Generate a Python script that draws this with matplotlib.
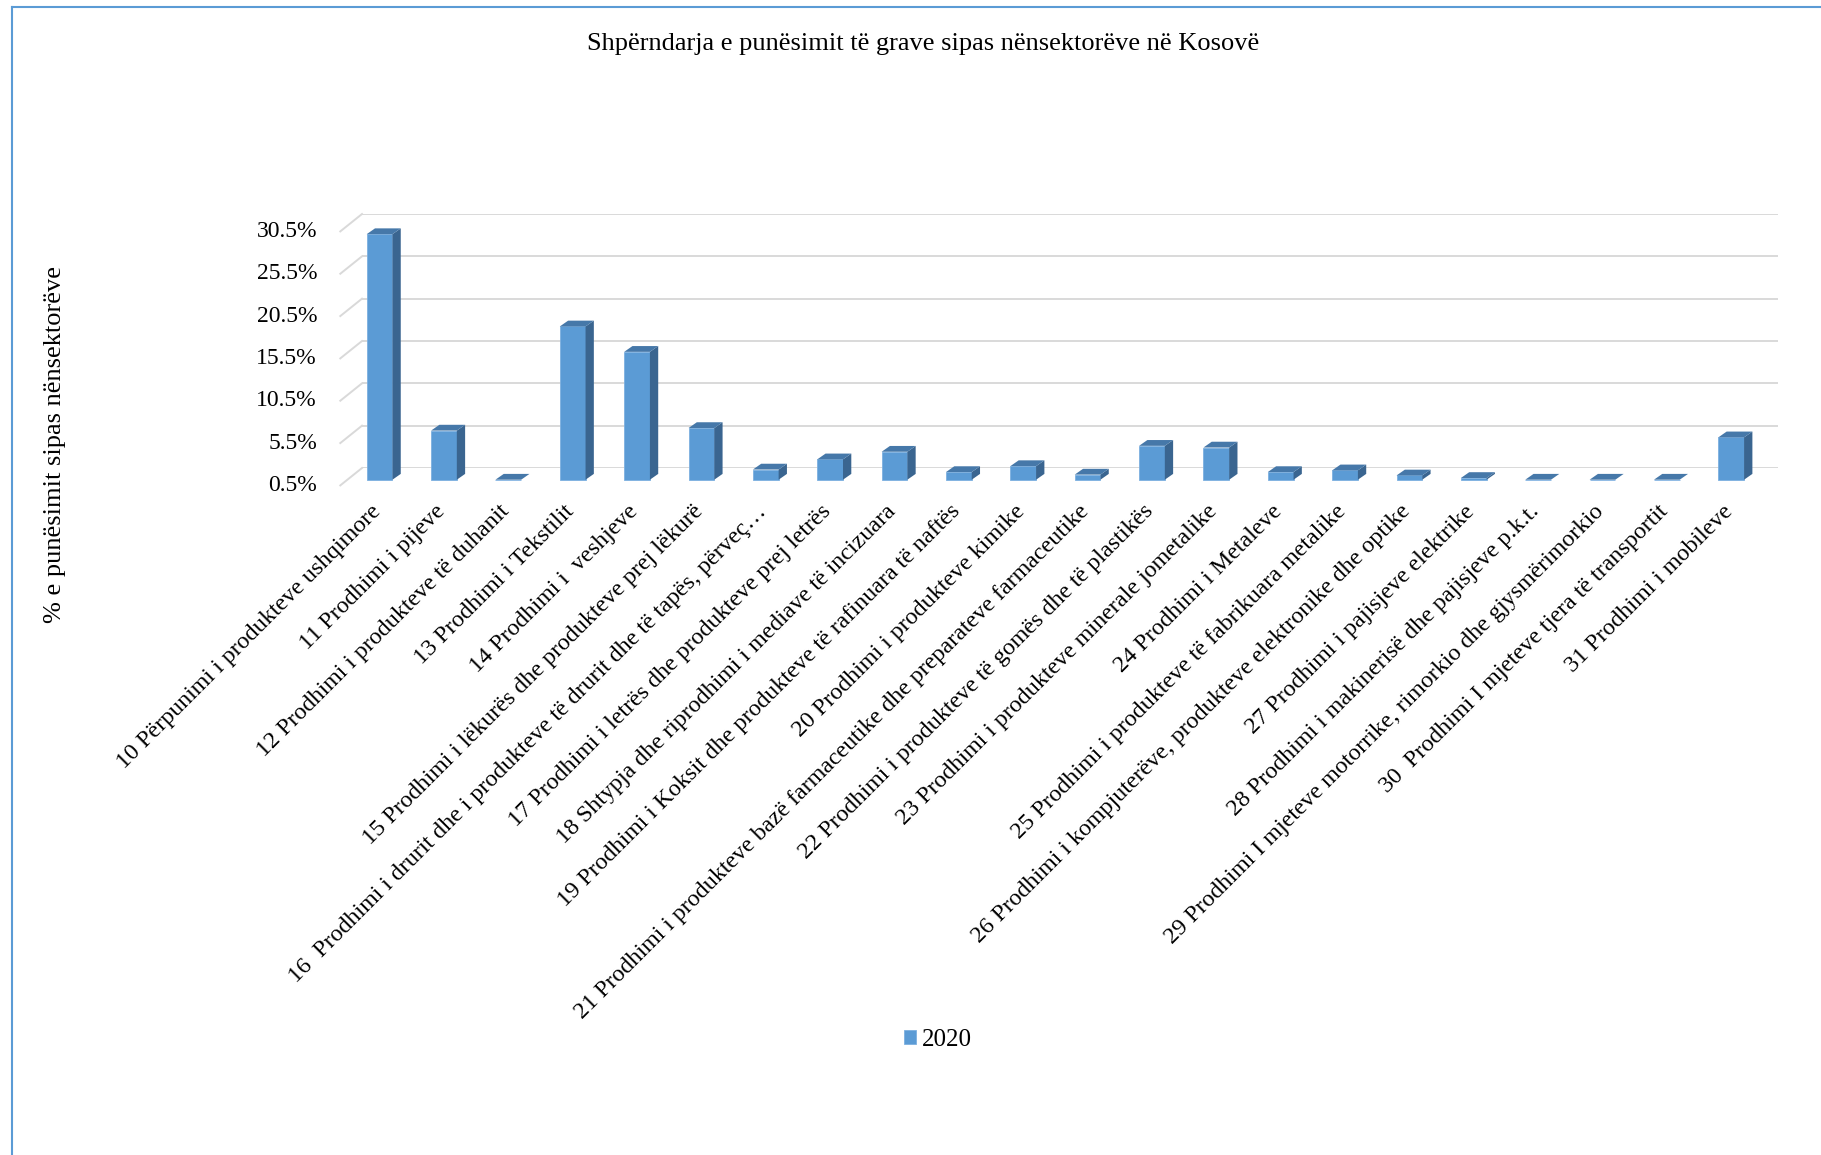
import matplotlib
matplotlib.use('Agg')
import matplotlib.pyplot as plt
import matplotlib.transforms as mtransforms
from matplotlib.patches import Polygon
from matplotlib.lines import Line2D
import numpy as np

plt.rcParams['font.family'] = ['Liberation Serif', 'DejaVu Serif']

title = 'Shpërndarja e punësimit të grave sipas nënsektorëve në Kosovë'
ylabel = '% e punësimit sipas nënsektorëve'
series_name = '2020'

categories = [
    '10 Përpunimi i produkteve ushqimore',
    '11 Prodhimi i pijeve',
    '12 Prodhimi i produkteve të duhanit',
    '13 Prodhimi i Tekstilit',
    '14 Prodhimi i  veshjeve',
    '15 Prodhimi i lëkurës dhe produkteve prej lëkurë',
    '16  Prodhimi i drurit dhe i produkteve të drurit dhe të tapës, përveç…',
    '17 Prodhimi i letrës dhe produkteve prej letrës',
    '18 Shtypja dhe riprodhimi i mediave të incizuara',
    '19 Prodhimi i Koksit dhe produkteve të rafinuara të naftës',
    '20 Prodhimi i produkteve kimike',
    '21 Prodhimi i produkteve bazë farmaceutike dhe preparateve farmaceutike',
    '22 Prodhimi i produkteve të gomës dhe të plastikës',
    '23 Prodhimi i produkteve minerale jometalike',
    '24 Prodhimi i Metaleve',
    '25 Prodhimi i produkteve të fabrikuara metalike',
    '26 Prodhimi i kompjuterëve, produkteve elektronike dhe optike',
    '27 Prodhimi i pajisjeve elektrike',
    '28 Prodhimi i makinerisë dhe pajisjeve p.k.t.',
    '29 Prodhimi I mjeteve motorrike, rimorkio dhe gjysmërimorkio',
    '30  Prodhimi I mjeteve tjera të transportit',
    '31 Prodhimi i mobileve',
]
# share of women's employment, %
values = [29.5, 6.3, 0.4, 18.6, 15.6, 6.6, 1.7, 2.9, 3.8, 1.4, 2.1,
          1.1, 4.5, 4.3, 1.4, 1.6, 1.0, 0.7, 0.4, 0.3, 0.3, 5.5]
yticks = [0.5, 5.5, 10.5, 15.5, 20.5, 25.5, 30.5]

W, H = 1821, 1155
fig = plt.figure(figsize=(W / 100, H / 100), dpi=100)

# back wall of the 3d chart, in pixels
left, right, bottom, top = 362, 1778, 468, 214
ax = fig.add_axes([left / W, 1 - bottom / H, (right - left) / W, (bottom - top) / H])
ax.set_xlim(-0.5, len(categories) - 0.5)
ax.set_ylim(yticks[0], yticks[-1])
for s in ax.spines.values():
    s.set_visible(False)
ax.set_xticks([])
ax.set_yticks(yticks)
ax.tick_params(axis='y', length=0, labelleft=False)
ax.grid(axis='y', color='#d9d9d9', linewidth=1.4)
ax.set_axisbelow(True)

px_x = (right - left) / len(categories)      # pixels per category
px_y = (bottom - top) / (yticks[-1] - yticks[0])  # pixels per percent

def shift(dx, dy):
    return mtransforms.ScaledTranslation(dx / 100, dy / 100, fig.dpi_scale_trans)

# side wall diagonals
wall_dx, wall_dy = 21.7, 17.4
for t in yticks:
    ax.plot([-0.5 - wall_dx / px_x, -0.5], [t - wall_dy / px_y, t],
            color='#d9d9d9', lw=1.4, clip_on=False, zorder=0)
    ax.text(0, t, f'{t}%', transform=ax.get_yaxis_transform() + shift(-45, -17.5),
            ha='right', va='center', fontsize=17)

# bars, pushed forward to the middle of the depth
base = yticks[0]
vals = np.maximum(np.array(values), base)
x = np.arange(len(categories))
bw = 0.4
bar_tr = ax.transData + shift(-14.6, -11.7)
bars = ax.bar(x, vals - base, bottom=base, width=bw, color='#5b9bd5',
              edgecolor='#7db0e0', linewidth=0.6, label=series_name, zorder=3)
for b in bars:
    b.set_transform(bar_tr)
    b.set_clip_on(False)

ddx, ddy = 8.3 / px_x, 5.8 / px_y
for xi, v in zip(x, vals):
    x0, x1 = xi - bw / 2, xi + bw / 2
    side = Polygon([(x1, base), (x1, v), (x1 + ddx, v + ddy), (x1 + ddx, base + ddy)],
                   closed=True, facecolor='#3a6590', edgecolor='none', zorder=3,
                   transform=bar_tr, clip_on=False)
    topf = Polygon([(x0, v), (x1, v), (x1 + ddx, v + ddy), (x0 + ddx, v + ddy)],
                   closed=True, facecolor='#4678a9', edgecolor='none', zorder=3,
                   transform=bar_tr, clip_on=False)
    ax.add_patch(side)
    ax.add_patch(topf)

# category labels
lab_tr = mtransforms.blended_transform_factory(ax.transData, ax.transAxes) + shift(-24, -33)
for xi, c in zip(x, categories):
    ax.text(xi, 0, c, transform=lab_tr, rotation=45, rotation_mode='anchor',
            ha='right', va='top', fontsize=17.3)

fig.text(923 / W, 1 - 44 / H, title, ha='center', va='center', fontsize=19)
fig.text(55 / W, 1 - 445 / H, ylabel, rotation=90, ha='center', va='center', fontsize=19)

fig.legend(handles=[bars[0]], labels=[series_name], loc='center',
           bbox_to_anchor=(938 / W, 1 - 1040 / H), frameon=False, fontsize=18,
           handlelength=0.45, handleheight=0.45, handletextpad=0.25)

# frame around the chart
fig.add_artist(Line2D([12 / W, 12 / W], [0, 1 - 7 / H], color='#5b9bd5', lw=1.5))
fig.add_artist(Line2D([12 / W, 1], [1 - 7 / H, 1 - 7 / H], color='#5b9bd5', lw=1.5))

fig.savefig('out.png', dpi=100)
